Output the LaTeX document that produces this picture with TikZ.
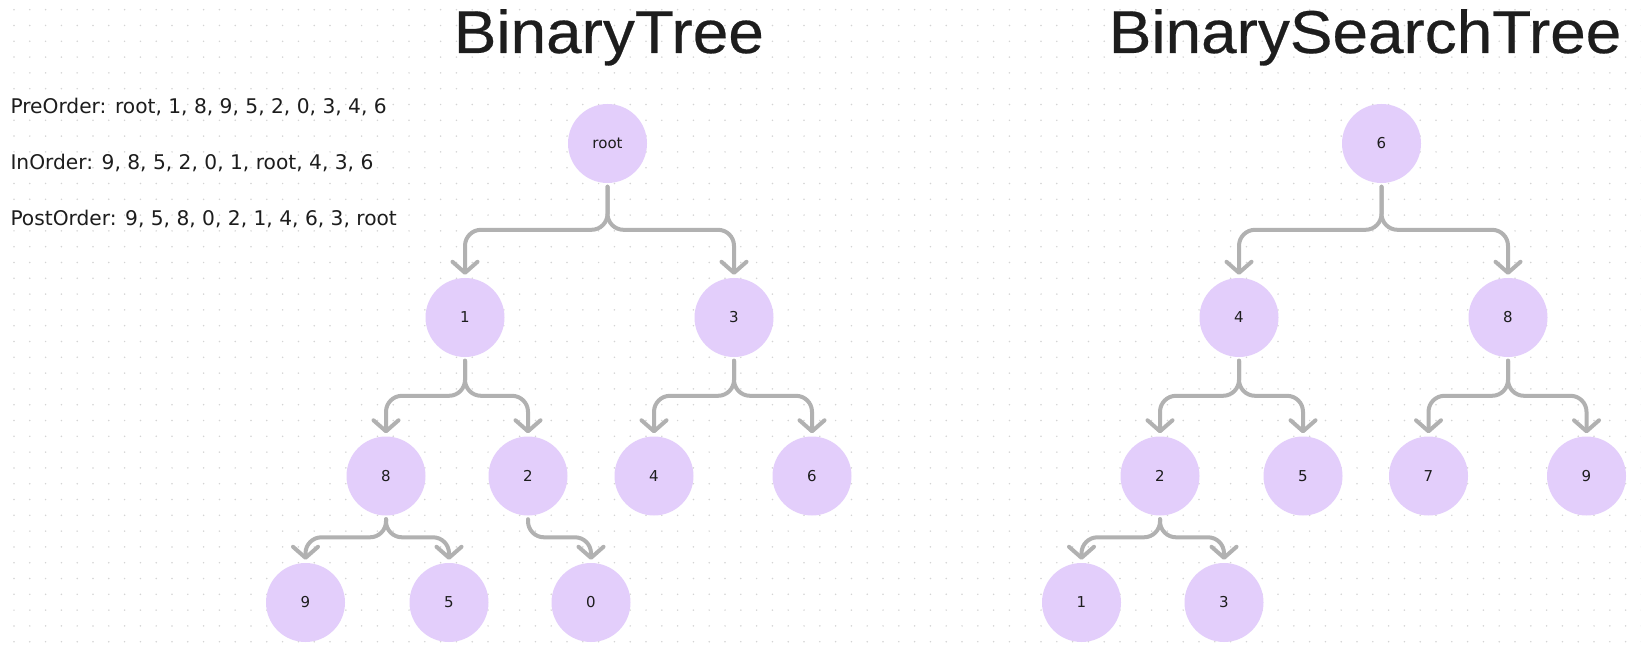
\documentclass[tikz,border=0pt]{standalone}
\usepackage{fontspec}
\setmainfont{DejaVu Sans}
\newfontfamily\titlefont[FakeStretch=1.056,FakeBold=0.4]{Liberation Sans}
\usetikzlibrary{arrows.meta,calc}
\definecolor{nodefill}{HTML}{E3CEFB}
\definecolor{edgegray}{HTML}{B1B1B1}
\definecolor{dotgray}{HTML}{D4D4D4}
\definecolor{ink}{HTML}{1D1D1D}
\tikzset{
  tnode/.style={circle,fill=nodefill,minimum size=79pt,inner sep=0pt,text=ink,font=\fontsize{15}{17}\selectfont},
  edge/.style={draw=edgegray,line width=4pt,line cap=round,rounded corners=16pt,-{Straight Barb[length=11pt,width=25pt,round]}},
  title/.style={anchor=base west,inner sep=0pt,text=ink,font=\titlefont\fontsize{60.5}{62}\selectfont},
  order/.style={anchor=base west,inner sep=0pt,text=ink,font=\fontsize{20.2}{24}\selectfont},
}
\newcommand\treeedge[3]{\draw[edge] ([yshift=-3.5pt]#1.south) |- ([yshift=#3]#2.north) -- ([yshift=3pt]#2.north);}
\begin{document}
\begin{tikzpicture}[x=1pt,y=-1pt]
\fill[white] (0,0) rectangle (1641,652);
\useasboundingbox (0,0) rectangle (1641,652);
\foreach \i in {0,...,103}{\foreach \j in {0,...,40}{\fill[dotgray] ({14+15.8*\i},{9.7+15.8*\j}) circle[radius=0.85pt];}}

% titles and traversal texts
\node[title] (t1) at (453.6,53) {BinaryTree};
\node[title] (t2) at (1108.6,53) {BinarySearchTree};
\node[order] (pre) at (10.3,113.5) {PreOrder: root, 1, 8, 9, 5, 2, 0, 3, 4, 6};
\node[order] (ino) at (10.3,169.5) {InOrder: 9, 8, 5, 2, 0, 1, root, 4, 3, 6};
\node[order] (post) at (10.3,225.5) {PostOrder: 9, 5, 8, 0, 2, 1, 4, 6, 3, root};

% Binary tree
\node[tnode] (root) at (607.5,143.5) {root};
\node[tnode] (a1) at (465,317.5) {1};
\node[tnode] (a3) at (734,317.5) {3};
\node[tnode] (a8) at (386,476) {8};
\node[tnode] (a2) at (528,476) {2};
\node[tnode] (a4) at (654,476) {4};
\node[tnode] (a6) at (812,476) {6};
\node[tnode] (a9) at (305.5,602.5) {9};
\node[tnode] (a5) at (449,602.5) {5};
\node[tnode] (a0) at (591,602.5) {0};

\treeedge{root}{a1}{48pt}
\treeedge{root}{a3}{48pt}
\treeedge{a1}{a8}{40.5pt}
\treeedge{a1}{a2}{40.5pt}
\treeedge{a3}{a4}{40.5pt}
\treeedge{a3}{a6}{40.5pt}
\treeedge{a8}{a9}{25.5pt}
\treeedge{a8}{a5}{25.5pt}
\treeedge{a2}{a0}{25.5pt}

% Binary search tree
\node[tnode] (b6) at (1381.5,143.5) {6};
\node[tnode] (b4) at (1239,317.5) {4};
\node[tnode] (b8) at (1508,317.5) {8};
\node[tnode] (b2) at (1160,476) {2};
\node[tnode] (b5) at (1303,476) {5};
\node[tnode] (b7) at (1428.5,476) {7};
\node[tnode] (b9) at (1586.5,476) {9};
\node[tnode] (b1) at (1081.5,602.5) {1};
\node[tnode] (b3) at (1224,602.5) {3};

\treeedge{b6}{b4}{48pt}
\treeedge{b6}{b8}{48pt}
\treeedge{b4}{b2}{40.5pt}
\treeedge{b4}{b5}{40.5pt}
\treeedge{b8}{b7}{40.5pt}
\treeedge{b8}{b9}{40.5pt}
\treeedge{b2}{b1}{25.5pt}
\treeedge{b2}{b3}{25.5pt}
\end{tikzpicture}
\end{document}
